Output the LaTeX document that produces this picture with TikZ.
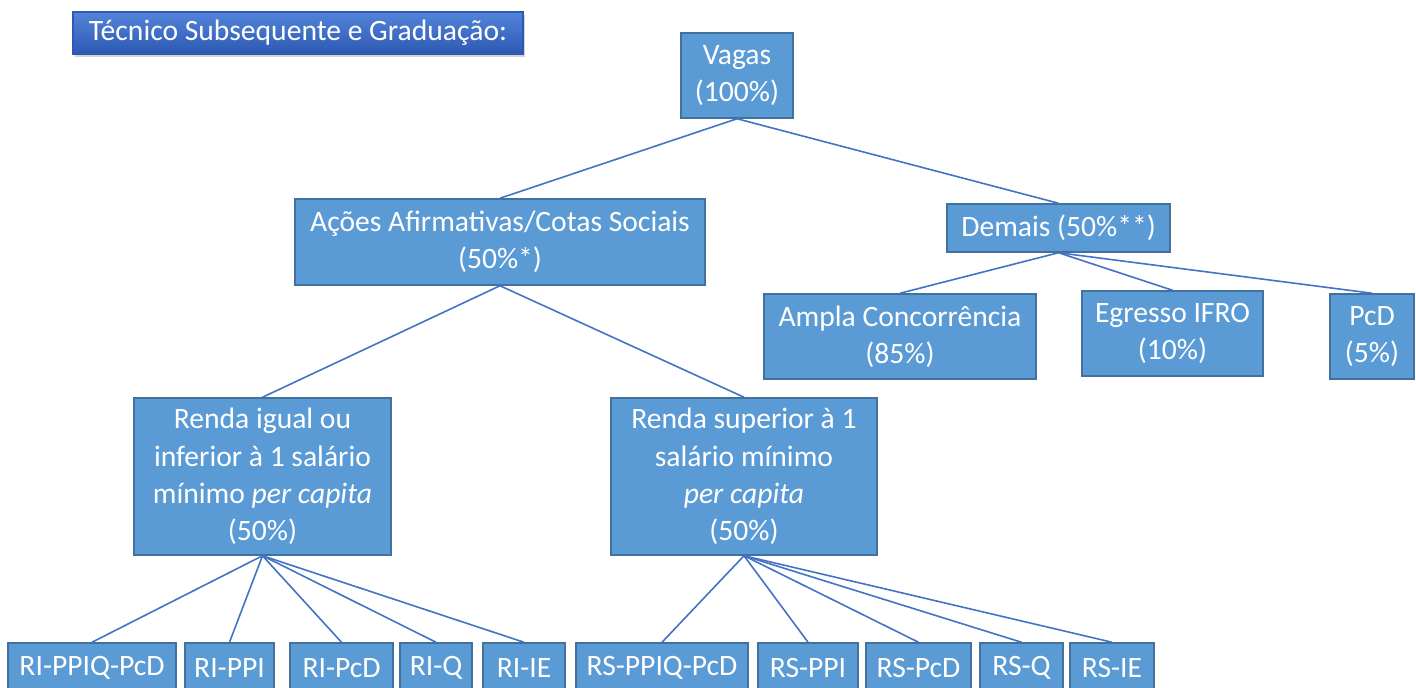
\documentclass[tikz,border=0pt]{standalone}
\usepackage{fontspec}
\setmainfont{Carlito}
\usetikzlibrary{shadows}
\definecolor{boxfill}{HTML}{5B9BD5}
\definecolor{boxline}{HTML}{41719C}
\definecolor{linkcol}{HTML}{4472C4}
\definecolor{titletop}{HTML}{5284D9}
\definecolor{titlebot}{HTML}{2D59B3}

\begin{document}
\begin{tikzpicture}[x=0.5pt, y=-0.5pt, line width=0.75pt,
  box/.style={rectangle, draw=boxline, fill=boxfill, text=white, align=center,
    inner sep=0pt, font=\fontsize{14.8}{18.6}\selectfont},
  link/.style={draw=linkcol, line width=0.8pt}]
 \useasboundingbox (0,0) rectangle (1416,688);

 \node [rectangle, top color=titletop, bottom color=titlebot, draw=titlebot, text=white,
   font=\fontsize{14.8}{18.6}\selectfont, minimum width=225pt, minimum height=21pt,
   drop shadow={shadow xshift=1pt, shadow yshift=-1.5pt, opacity=0.35}] (title) at (298,33) {Técnico Subsequente e Graduação:};

 \node [box, minimum width=56pt, minimum height=42.5pt] (vagas) at (737,75.5) {Vagas\\(100\%)};
 \node [box, minimum width=205pt, minimum height=43pt] (acoes) at (500,242) {Ações Afirmativas/Cotas Sociais\\(50\%*)};
 \node [box, minimum width=111.5pt, minimum height=24pt] (demais) at (1058.5,228) {Demais (50\%**)};

 \node [box, minimum width=136pt, minimum height=42.5pt] (ampla) at (900,336.5) {Ampla Concorrência\\(85\%)};
 \node [box, minimum width=90.5pt, minimum height=42.5pt] (egresso) at (1172.5,333.5) {Egresso IFRO\\(10\%)};
 \node [box, minimum width=42pt, minimum height=42.5pt] (pcd) at (1372,336.5) {PcD\\(5\%)};

 \node [box, minimum width=128.5pt, minimum height=78.5pt] (rendai) at (262.5,476.5) {Renda igual ou\\inferior à 1 salário\\mínimo \textit{per capita}\\(50\%)};
 \node [box, minimum width=133pt, minimum height=78.5pt] (rendas) at (744,476.5) {Renda superior à 1\\salário mínimo\\\textit{per capita}\\(50\%)};

 % bottom row
 \node [box, minimum width=84pt, minimum height=25pt] (ri1) at (92,668) {RI-PPIQ-PcD};
 \node [box, minimum width=44.5pt, minimum height=25pt] (ri2) at (229.5,668) {RI-PPI};
 \node [box, minimum width=51.5pt, minimum height=25pt] (ri3) at (341.5,668) {RI-PcD};
 \node [box, minimum width=36pt, minimum height=25pt] (ri4) at (436,668) {RI-Q};
 \node [box, minimum width=41pt, minimum height=25pt] (ri5) at (524,668) {RI-IE};
 \node [box, minimum width=86pt, minimum height=25pt] (rs1) at (662,668) {RS-PPIQ-PcD};
 \node [box, minimum width=50pt, minimum height=25pt] (rs2) at (808,668) {RS-PPI};
 \node [box, minimum width=52.5pt, minimum height=25pt] (rs3) at (918.5,668) {RS-PcD};
 \node [box, minimum width=41.5pt, minimum height=25pt] (rs4) at (1021.5,668) {RS-Q};
 \node [box, minimum width=42pt, minimum height=25pt] (rs5) at (1112,668) {RS-IE};

 \draw [link] (vagas.south) -- (acoes.north);
 \draw [link] (vagas.south) -- (demais.north);

 \draw [link] (demais.south) -- (ampla.north);
 \draw [link] (demais.south) -- (egresso.north);
 \draw [link] (demais.south) -- (pcd.north);

 \draw [link] (acoes.south) -- (rendai.north);
 \draw [link] (acoes.south) -- (rendas.north);

 \foreach \n in {ri1,ri2,ri3,ri4,ri5}
   \draw [link] (rendai.south) -- (\n.north);
 \foreach \n in {rs1,rs2,rs3,rs4,rs5}
   \draw [link] (rendas.south) -- (\n.north);
\end{tikzpicture}
\end{document}
